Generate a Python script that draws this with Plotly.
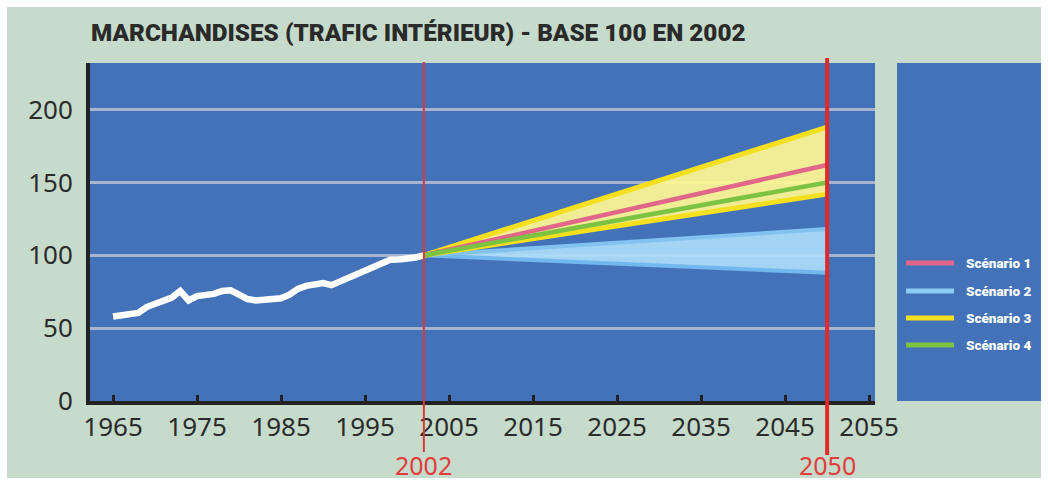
import plotly.graph_objects as go

# Historical domestic freight traffic index (base 100 in 2002)
hist_years = list(range(1965, 2003))
hist_values = [58, 58.8, 59.3, 60.5, 64.5, 66.5, 68.5, 71, 75.5, 69,
               72, 72.5, 73.5, 75.5, 76, 73, 70, 69, 69.5, 70,
               70.5, 73, 77, 79, 80, 81, 79.5, 82, 85, 87,
               90, 92.5, 95.5, 97, 97.2, 97.3, 98.5, 100]

# Projections 2002 -> 2050
proj_years = [2002, 2050]
scen1 = [100, 162]
scen2_low = [100, 88]
scen2_high = [100, 118]
scen3_low = [100, 142]
scen3_high = [100, 188]
scen4 = [100, 150]

scenario_names = ["Scénario 1", "Scénario 2", "Scénario 3", "Scénario 4"]
scenario_colors = ["#e0668a", "#8ecbf3", "#f4e01e", "#7cc243"]

x_ticks = list(range(1965, 2056, 10))
y_ticks = [0, 50, 100, 150, 200]
marker_years = [2002, 2050]

W_FIG, H_FIG = 1048, 481
L, R, T, B = 90, 875, 63, 401
PW, PH = R - L, B - T


def px(x):
    return (x - L) / PW


def py(y):
    return (B - y) / PH


BLUE = "#4372b8"
GREEN = "#c6dbcb"
HEAVY = "Roboto, Inter, sans-serif"

fig = go.Figure()

# Scenario 2 band
fig.add_trace(go.Scatter(x=proj_years, y=scen2_low, mode="lines",
                         line=dict(color="#72b8ee", width=4), hoverinfo="skip"))
fig.add_trace(go.Scatter(x=proj_years, y=scen2_high, mode="lines", fill="tonexty",
                         fillcolor="rgba(172,220,248,0.92)",
                         line=dict(color="#82c2f1", width=4), hoverinfo="skip"))
# Scenario 3 band
fig.add_trace(go.Scatter(x=proj_years, y=scen3_low, mode="lines",
                         line=dict(color=scenario_colors[2], width=5), hoverinfo="skip"))
fig.add_trace(go.Scatter(x=proj_years, y=scen3_high, mode="lines", fill="tonexty",
                         fillcolor="rgba(255,247,147,0.92)",
                         line=dict(color=scenario_colors[2], width=5), hoverinfo="skip"))
# Scenario 1 and 4
fig.add_trace(go.Scatter(x=proj_years, y=scen1, mode="lines",
                         line=dict(color=scenario_colors[0], width=4.5), hoverinfo="skip"))
fig.add_trace(go.Scatter(x=proj_years, y=scen4, mode="lines",
                         line=dict(color=scenario_colors[3], width=4.5), hoverinfo="skip"))
# History
fig.add_trace(go.Scatter(x=hist_years, y=hist_values, mode="lines",
                         line=dict(color="white", width=6.5), hoverinfo="skip"))

shapes = []
# white frame around the green panel
for x0, x1, y0, y1 in [(0, 7, 0, H_FIG), (1041, W_FIG, 0, H_FIG),
                       (0, W_FIG, 0, 7), (0, W_FIG, 478, H_FIG)]:
    shapes.append(dict(type="rect", xref="paper", yref="paper", layer="below",
                       x0=px(x0), x1=px(x1), y0=py(y1), y1=py(y0),
                       fillcolor="white", line=dict(width=0)))
# key panel
shapes.append(dict(type="rect", xref="paper", yref="paper", layer="below",
                   x0=px(897), x1=px(1041), y0=py(401), y1=py(63),
                   fillcolor=BLUE, line=dict(width=0)))
# reference year markers
shapes.append(dict(type="line", xref="x", yref="paper", layer="above",
                   x0=marker_years[0], x1=marker_years[0], y0=py(452), y1=py(62),
                   line=dict(color="#d83a3a", width=2)))
shapes.append(dict(type="line", xref="x", yref="paper", layer="above",
                   x0=marker_years[1], x1=marker_years[1], y0=py(455), y1=py(58),
                   line=dict(color="#e02a2a", width=4)))

annotations = []
for yr in marker_years:
    annotations.append(dict(x=yr, xref="x", y=py(465), yref="paper", text=str(yr),
                            showarrow=False, xanchor="center", yanchor="middle",
                            font=dict(family="Noto Sans, Open Sans, sans-serif",
                                      size=25, color="#e23c3c")))

# key entries
key_y = [263, 291, 318, 345]
for name, color, ky in zip(scenario_names, scenario_colors, key_y):
    shapes.append(dict(type="line", xref="paper", yref="paper", layer="above",
                       x0=px(906), x1=px(954), y0=py(ky), y1=py(ky),
                       line=dict(color=color, width=5)))
    annotations.append(dict(x=px(964), xref="paper", y=py(ky), yref="paper",
                            text=name, showarrow=False,
                            xanchor="left", yanchor="middle",
                            font=dict(family=HEAVY, size=13.5, color="white", weight=900)))

annotations.append(dict(x=px(89), xref="paper", y=py(32), yref="paper",
                        text="MARCHANDISES (TRAFIC INTÉRIEUR) - BASE 100 EN 2002",
                        showarrow=False, xanchor="left", yanchor="middle",
                        font=dict(family=HEAVY, size=24.3, color="#2a2a2a", weight=900)))

tick_font = dict(family="Noto Sans, Open Sans, sans-serif", size=26, color="#2b2b2b")

fig.update_layout(
    width=W_FIG, height=H_FIG,
    margin=dict(l=L, r=W_FIG - R, t=T, b=H_FIG - B),
    paper_bgcolor=GREEN, plot_bgcolor=BLUE,
    showlegend=False,
    shapes=shapes, annotations=annotations,
    xaxis=dict(range=[1962.26, 2055.7], tickvals=x_ticks, ticktext=[str(v) for v in x_ticks],
               ticks="inside", ticklen=6, tickwidth=3, tickcolor="#222",
               showline=True, linecolor="#222", linewidth=4,
               showgrid=False, zeroline=False, tickfont=tick_font, fixedrange=True),
    yaxis=dict(range=[0, 232], tickvals=y_ticks, ticktext=[str(v) for v in y_ticks],
               ticks="", showline=True, linecolor="#222", linewidth=4,
               showgrid=True, gridcolor="#a6b4d2", gridwidth=2.5,
               zeroline=False, tickfont=tick_font, ticklabelstandoff=8, fixedrange=True),
)

fig.write_html("out.html")
